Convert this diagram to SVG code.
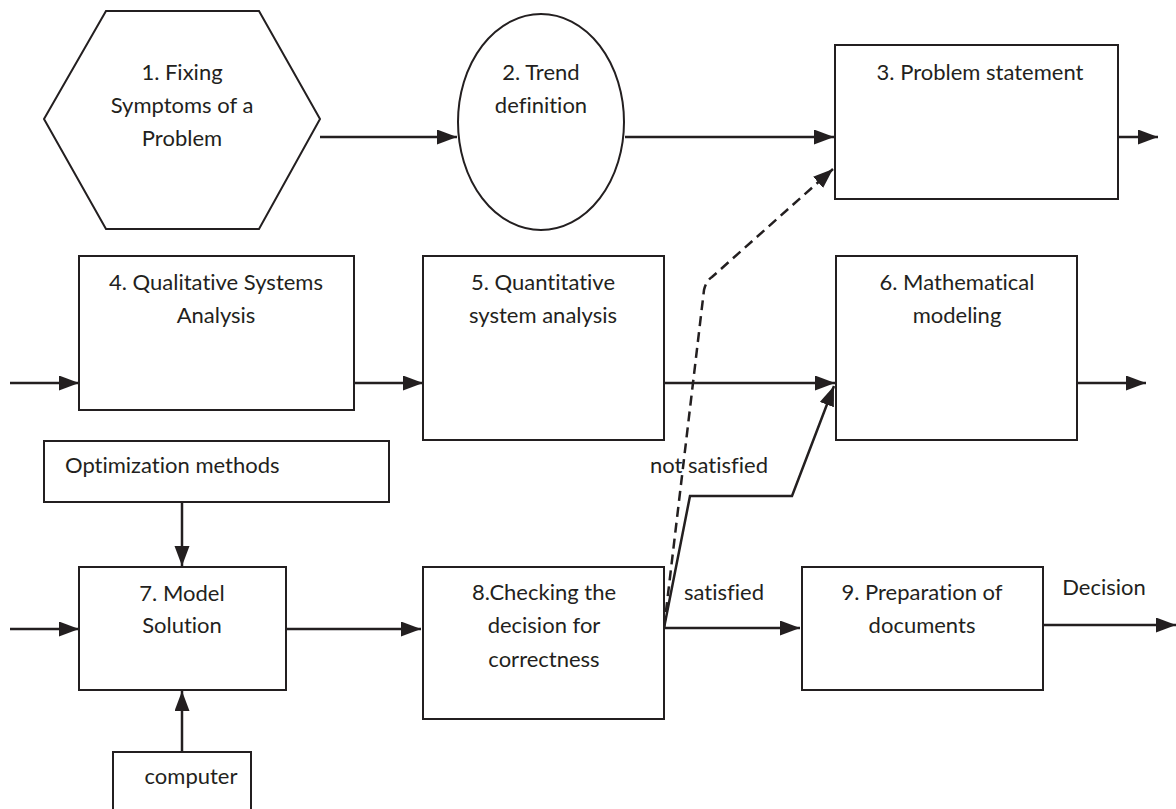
<svg xmlns="http://www.w3.org/2000/svg" width="1176" height="809" viewBox="0 0 1176 809">
<defs>
<style>
.n{fill:#fff;stroke:#231f20;stroke-width:2}
.t{font-family:Lato,"Open Sans","Liberation Sans",sans-serif;font-size:22px;fill:#231f20;text-anchor:middle;font-variant-ligatures:none}
.s{font-family:Lato,"Open Sans","Liberation Sans",sans-serif;font-size:22px;fill:#231f20;font-variant-ligatures:none}
.c{fill:none;stroke:#231f20;stroke-width:2.5}
.d{fill:none;stroke:#231f20;stroke-width:2.5;stroke-dasharray:10 6}
</style>
<marker id="ah" markerUnits="userSpaceOnUse" markerWidth="20" markerHeight="16" refX="20" refY="7.5" orient="auto">
<path d="M0,0 L20,7.5 L0,15 z" fill="#231f20"/>
</marker>
</defs>
<rect width="1176" height="809" fill="#fff"/>
<g id="connectors">
<line class="c" x1="320" y1="137" x2="457" y2="137" marker-end="url(#ah)"/>
<line class="c" x1="625" y1="137" x2="834" y2="137" marker-end="url(#ah)"/>
<line class="c" x1="1118" y1="137" x2="1158" y2="137" marker-end="url(#ah)"/>
<line class="c" x1="10" y1="383" x2="79" y2="383" marker-end="url(#ah)"/>
<line class="c" x1="354" y1="383" x2="423" y2="383" marker-end="url(#ah)"/>
<line class="c" x1="664" y1="383" x2="835" y2="383" marker-end="url(#ah)"/>
<line class="c" x1="1077" y1="383" x2="1146" y2="383" marker-end="url(#ah)"/>
<line class="c" x1="182" y1="502" x2="182" y2="566" marker-end="url(#ah)"/>
<line class="c" x1="10" y1="629" x2="79" y2="629" marker-end="url(#ah)"/>
<line class="c" x1="286" y1="629" x2="421" y2="629" marker-end="url(#ah)"/>
<line class="c" x1="182" y1="752" x2="182" y2="691" marker-end="url(#ah)"/>
<line class="c" x1="664" y1="628" x2="800" y2="628" marker-end="url(#ah)"/>
<line class="c" x1="1043" y1="625" x2="1176" y2="625" marker-end="url(#ah)"/>
<path class="c" d="M664,628 L690,496 L792,496 L834,386" marker-end="url(#ah)"/>
<path class="d" d="M664,628 L704,290 Q706,281 712,277 L833,169" marker-end="url(#ah)"/>
</g>
<g id="node1">
<polygon class="n" points="106,11 259,11 320,119 259,229 106,229 44,119"/>
<text class="t" x="182" y="80">1. Fixing</text>
<text class="t" x="182" y="113">Symptoms of a</text>
<text class="t" x="182" y="146">Problem</text>
</g>
<g id="node2">
<ellipse class="n" cx="541" cy="122" rx="83" ry="108"/>
<text class="t" x="541" y="80">2. Trend</text>
<text class="t" x="541" y="113">definition</text>
</g>
<g id="node3">
<rect class="n" x="835" y="45" width="283" height="154"/>
<text class="t" x="980" y="80">3. Problem statement</text>
</g>
<g id="node4">
<rect class="n" x="79" y="256" width="275" height="154"/>
<text class="t" x="216" y="290">4. Qualitative Systems</text>
<text class="t" x="216" y="323">Analysis</text>
</g>
<g id="node5">
<rect class="n" x="423" y="256" width="241" height="184"/>
<text class="t" x="543" y="290">5. Quantitative</text>
<text class="t" x="543" y="323">system analysis</text>
</g>
<g id="node6">
<rect class="n" x="836" y="256" width="241" height="184"/>
<text class="t" x="957" y="290">6. Mathematical</text>
<text class="t" x="957" y="323">modeling</text>
</g>
<g id="optimization">
<rect class="n" x="44" y="441" width="345" height="61"/>
<text class="s" x="65" y="473">Optimization methods</text>
</g>
<g id="node7">
<rect class="n" x="79" y="567" width="207" height="123"/>
<text class="t" x="182" y="601">7. Model</text>
<text class="t" x="182" y="633">Solution</text>
</g>
<g id="computer">
<path class="n" d="M113,812 L113,752 L251,752 L251,812"/>
<text class="t" x="191" y="784">computer</text>
</g>
<g id="node8">
<rect class="n" x="423" y="567" width="241" height="152"/>
<text class="t" x="544" y="600">8.Checking the</text>
<text class="t" x="544" y="633">decision for</text>
<text class="t" x="544" y="667">correctness</text>
</g>
<g id="node9">
<rect class="n" x="802" y="567" width="241" height="123"/>
<text class="t" x="922" y="600">9. Preparation of</text>
<text class="t" x="922" y="633">documents</text>
</g>
<g id="labels">
<text class="t" x="709" y="473">not satisfied</text>
<text class="t" x="724" y="600">satisfied</text>
<text class="t" x="1104" y="595">Decision</text>
</g>
</svg>
